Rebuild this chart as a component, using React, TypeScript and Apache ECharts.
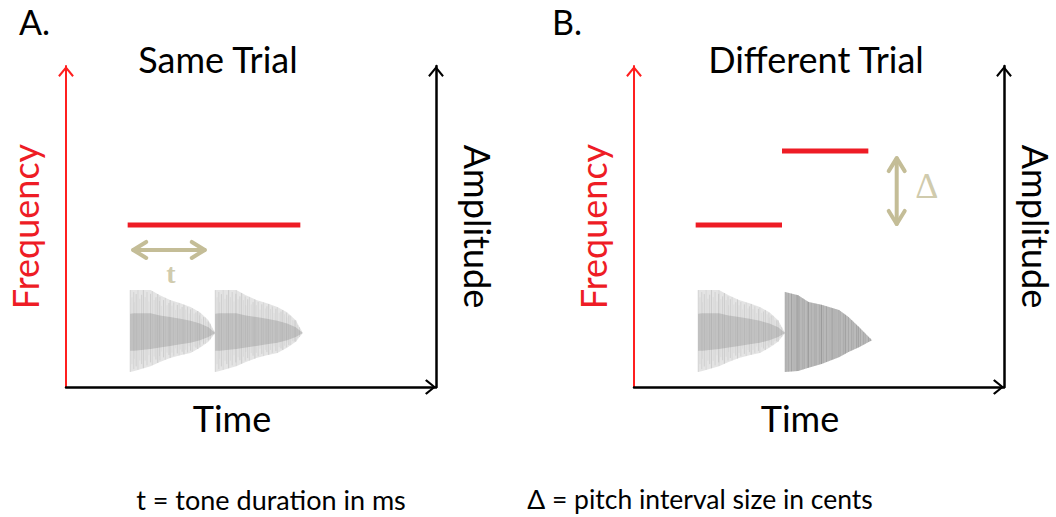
import React, { useEffect, useRef } from "react";
import * as echarts from "echarts";

const FONT = "Lato, 'Open Sans', sans-serif";
const SERIF = "'Liberation Serif', 'DejaVu Serif', serif";
const RED = "#ee1c25";
const AXIS_RED = "#ff1f1f";
const TAN = "#c4bd97";

const TIME_MAX = 6;
const FREQ_MAX = 10;
const WAVE_BASE = 1.68;

const panelTitles = ["Same Trial", "Different Trial"];
const panelLetters = ["A.", "B."];
const axisNames = { time: "Time", freq: "Frequency", amp: "Amplitude" };
const notes = ["t = tone duration in ms", "\u0394 = pitch interval size in cents"];

// tone frequency segments: [start, end, frequency]
const sameTrialTones = [
  [1.0, 2.4, 5.05],
  [2.4, 3.8, 5.05],
];
const diffTrialTones = [
  [1.0, 2.4, 5.05],
  [2.4, 3.8, 7.35],
];

// waveforms: [start, end, style] (0 = light tone, 1 = dark tone)
const sameTrialWaves = [
  [1.04, 2.42, 0],
  [2.42, 3.84, 0],
];
const diffTrialWaves = [
  [1.04, 2.45, 0],
  [2.45, 3.86, 1],
];

// double arrows: [x1, y1, x2, y2]
const durationArrow = [[1.09, 4.27, 2.25, 4.27]];
const intervalArrow = [[4.26, 7.13, 4.26, 5.08]];
// arrow labels: [x, y]
const durationLabel = [[1.7, 3.55]];
const intervalLabel = [[4.75, 6.26]];

// amplitude envelopes (relative position within tone, offsets from baseline)
const lightPos = [0, 0.05, 0.24, 0.35, 0.47, 0.59, 0.71, 0.82, 0.92, 1];
const lightTop = [1.34, 1.34, 1.34, 1.18, 1.03, 0.93, 0.81, 0.65, 0.4, 0];
const lightBottom = [-1.21, -1.18, -1.03, -0.9, -0.78, -0.69, -0.62, -0.46, -0.27, 0];
const lightInnerTop = [0.6, 0.62, 0.62, 0.55, 0.5, 0.45, 0.38, 0.3, 0.18, 0];
const lightInnerBottom = [-0.55, -0.55, -0.5, -0.45, -0.4, -0.35, -0.3, -0.22, -0.12, 0];

const darkPos = [0, 0.15, 0.27, 0.42, 0.62, 0.73, 0.85, 1];
const darkTop = [1.28, 1.18, 0.97, 0.88, 0.72, 0.5, 0.19, -0.22];
const darkBottom = [-1.21, -1.18, -1.08, -0.96, -0.75, -0.59, -0.44, -0.22];

const stripeAlpha = [0.55, 0.25, 0.4, 0.18, 0.5, 0.3, 0.22, 0.45];
const stripeLen = [1, 0.82, 0.95, 0.7, 0.9, 1, 0.78, 0.88];

const axisArrow = "path://M10,0 L20,12 L18,14 L10,4 L2,14 L0,12 Z";

function renderTone(params: any, api: any) {
  const a = api.coord([api.value(0), api.value(2)]);
  const b = api.coord([api.value(1), api.value(2)]);
  return {
    type: "line",
    shape: { x1: a[0], y1: a[1], x2: b[0], y2: b[1] },
    style: { stroke: RED, lineWidth: 5 },
  };
}

function renderWave(params: any, api: any) {
  const start = api.value(0);
  const end = api.value(1);
  const dark = api.value(2) === 1;
  const pos = dark ? darkPos : lightPos;
  const top = dark ? darkTop : lightTop;
  const bot = dark ? darkBottom : lightBottom;
  const pt = (p: number, off: number) => api.coord([start + p * (end - start), WAVE_BASE + off]);
  const topPts = pos.map((p, i) => pt(p, top[i]));
  const botPts = pos.map((p, i) => pt(p, bot[i]));
  const children: any[] = [];
  children.push({
    type: "polygon",
    shape: { points: [...topPts, ...botPts.slice().reverse()] },
    style: { fill: dark ? "rgba(165,165,165,0.7)" : "rgba(205,205,205,0.55)", stroke: "none" },
  });
  if (!dark) {
    const it = pos.map((p, i) => pt(p, lightInnerTop[i]));
    const ib = pos.map((p, i) => pt(p, lightInnerBottom[i]));
    children.push({
      type: "polygon",
      shape: { points: [...it, ...ib.slice().reverse()] },
      style: { fill: "rgba(150,150,150,0.4)", stroke: "none" },
    });
  }
  // stripe texture
  let k = 0;
  const step = dark ? 1.6 : 1.8;
  for (let i = 0; i < pos.length - 1; i++) {
    const xa = topPts[i][0];
    const xb = topPts[i + 1][0];
    for (let x = xa; x < xb; x += step) {
      const f = (x - xa) / (xb - xa);
      const yt = topPts[i][1] + f * (topPts[i + 1][1] - topPts[i][1]);
      const yb = botPts[i][1] + f * (botPts[i + 1][1] - botPts[i][1]);
      const mid = (yt + yb) / 2;
      const len = dark ? 1 : stripeLen[k % stripeLen.length];
      const alpha = stripeAlpha[k % stripeAlpha.length] * (dark ? 0.85 : 0.55);
      children.push({
        type: "line",
        shape: { x1: x, y1: mid + (yt - mid) * len, x2: x, y2: mid + (yb - mid) * len },
        style: { stroke: dark ? `rgba(105,105,105,${alpha})` : `rgba(130,130,130,${alpha})`, lineWidth: 0.8 },
      });
      k++;
    }
  }
  return { type: "group", children };
}

function renderArrow(params: any, api: any) {
  const a = api.coord([api.value(0), api.value(1)]);
  const b = api.coord([api.value(2), api.value(3)]);
  const ang = Math.atan2(b[1] - a[1], b[0] - a[0]);
  const head = (p: number[], dir: number) => {
    const L = 13;
    const W = 8;
    const bx = p[0] - Math.cos(dir) * L;
    const by = p[1] - Math.sin(dir) * L;
    const nx = -Math.sin(dir) * W;
    const ny = Math.cos(dir) * W;
    return {
      type: "polyline",
      shape: { points: [[bx + nx, by + ny], [p[0], p[1]], [bx - nx, by - ny]] },
      style: { stroke: TAN, lineWidth: 4, fill: null, lineJoin: "round", lineCap: "round" },
    };
  };
  return {
    type: "group",
    children: [
      {
        type: "line",
        shape: { x1: a[0], y1: a[1], x2: b[0], y2: b[1] },
        style: { stroke: TAN, lineWidth: 4, lineCap: "round" },
      },
      head(b, ang),
      head(a, ang + Math.PI),
    ],
  };
}

function xAxisOpt(gridIndex: number) {
  return {
    type: "value",
    gridIndex,
    min: 0,
    max: TIME_MAX,
    name: axisNames.time,
    nameLocation: "middle",
    nameGap: 13,
    nameTextStyle: { fontFamily: FONT, fontSize: 36, color: "#000", padding: [0, 38, 0, 0] },
    axisLine: {
      show: true,
      onZero: false,
      symbol: ["none", axisArrow],
      symbolSize: [17, 11],
      symbolOffset: [0, -5.5],
      lineStyle: { color: "#000", width: 2.5 },
    },
    axisTick: { show: false },
    axisLabel: { show: false },
    splitLine: { show: false },
  };
}

function yAxisOpts(gridIndex: number, ampGap: number) {
  const common = {
    type: "value",
    gridIndex,
    min: 0,
    max: FREQ_MAX,
    nameLocation: "middle",
    axisTick: { show: false },
    axisLabel: { show: false },
    splitLine: { show: false },
  };
  return [
    {
      ...common,
      position: "left",
      name: axisNames.freq,
      nameRotate: 90,
      nameGap: 23,
      nameTextStyle: { fontFamily: FONT, fontSize: 36, color: RED },
      axisLine: {
        show: true,
        onZero: false,
        symbol: ["none", axisArrow],
        symbolSize: [17, 11],
        symbolOffset: [0, -5.5],
        lineStyle: { color: AXIS_RED, width: 2 },
      },
    },
    {
      ...common,
      position: "right",
      name: axisNames.amp,
      nameRotate: -90,
      nameGap: ampGap,
      nameTextStyle: { fontFamily: FONT, fontSize: 36, color: "#000" },
      axisLine: {
        show: true,
        onZero: false,
        symbol: ["none", axisArrow],
        symbolSize: [17, 11],
        symbolOffset: [0, -5.5],
        lineStyle: { color: "#000", width: 2.5 },
      },
    },
  ];
}

export default function App() {
  const ref = useRef<HTMLDivElement>(null);
  useEffect(() => {
    if (!ref.current) return;
    const chart = echarts.init(ref.current, undefined, { renderer: "svg" });
    const tones = [sameTrialTones, diffTrialTones];
    const waves = [sameTrialWaves, diffTrialWaves];
    const series: any[] = [];
    [0, 1].forEach((g) => {
      series.push({
        type: "custom",
        xAxisIndex: g,
        yAxisIndex: g * 2,
        renderItem: renderWave,
        encode: { x: [0, 1], y: 2 },
        data: waves[g],
        clip: false,
        z: 2,
      });
      series.push({
        type: "custom",
        xAxisIndex: g,
        yAxisIndex: g * 2,
        renderItem: renderTone,
        encode: { x: [0, 1], y: 2 },
        data: tones[g],
        clip: false,
        z: 3,
      });
    });
    series.push({
      type: "custom",
      xAxisIndex: 0,
      yAxisIndex: 0,
      renderItem: renderArrow,
      encode: { x: [0, 2], y: [1, 3] },
      data: durationArrow,
      clip: false,
      z: 4,
    });
    series.push({
      type: "custom",
      xAxisIndex: 1,
      yAxisIndex: 2,
      renderItem: renderArrow,
      encode: { x: [0, 2], y: [1, 3] },
      data: intervalArrow,
      clip: false,
      z: 4,
    });
    series.push({
      type: "scatter",
      xAxisIndex: 0,
      yAxisIndex: 0,
      symbolSize: 0,
      data: durationLabel,
      label: {
        show: true,
        position: "inside",
        formatter: "t",
        fontFamily: SERIF,
        fontWeight: "bold",
        fontSize: 28,
        color: TAN,
      },
    });
    series.push({
      type: "scatter",
      xAxisIndex: 1,
      yAxisIndex: 2,
      symbolSize: 0,
      data: intervalLabel,
      label: {
        show: true,
        position: "inside",
        formatter: "\u0394",
        fontFamily: SERIF,
        fontSize: 36,
        color: TAN,
      },
    });

    const textStyle = (size: number) => ({ fontFamily: FONT, fontSize: size, fill: "#000" });
    chart.setOption({
      animation: false,
      backgroundColor: "#fff",
      grid: [
        { left: 66, top: 66, width: 370, height: 321 },
        { left: 634, top: 66, width: 370, height: 321 },
      ],
      xAxis: [xAxisOpt(0), xAxisOpt(1)],
      yAxis: [...yAxisOpts(0, 24), ...yAxisOpts(1, 14)],
      graphic: [
        { type: "text", left: 19, top: 4, style: { text: panelLetters[0], ...textStyle(34) } },
        { type: "text", left: 552, top: 4, style: { text: panelLetters[1], ...textStyle(34) } },
        {
          type: "text",
          x: 218,
          y: 59,
          style: { text: panelTitles[0], ...textStyle(36), textAlign: "center", textVerticalAlign: "middle" },
        },
        {
          type: "text",
          x: 816,
          y: 59,
          style: { text: panelTitles[1], ...textStyle(36), textAlign: "center", textVerticalAlign: "middle" },
        },
        {
          type: "text",
          x: 271,
          y: 499,
          style: { text: notes[0], ...textStyle(27), textAlign: "center", textVerticalAlign: "middle" },
        },
        {
          type: "text",
          x: 700,
          y: 499,
          style: { text: notes[1], ...textStyle(26.5), textAlign: "center", textVerticalAlign: "middle" },
        },
      ],
      series,
    });
    return () => chart.dispose();
  }, []);
  return (
    <div
      ref={ref}
      style={{ position: "fixed", left: 0, top: 0, width: 1056, height: 517 }}
    />
  );
}
